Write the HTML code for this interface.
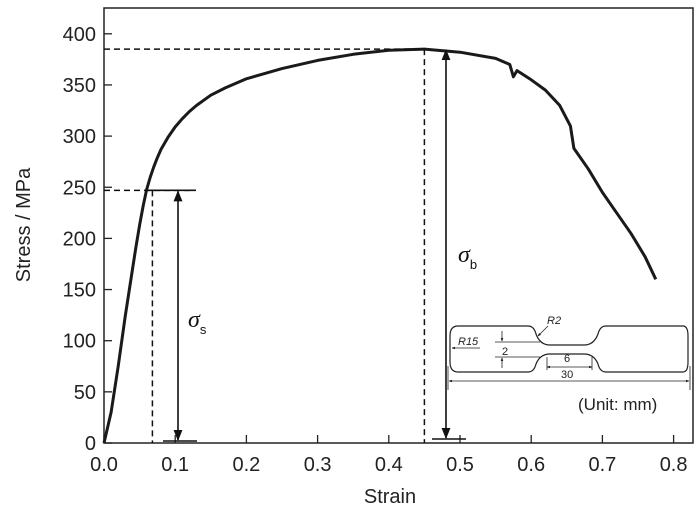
<!DOCTYPE html>
<html><head><meta charset="utf-8"><style>
body{margin:0;background:#fff}
svg{display:block;font-family:"Liberation Sans",Arial,sans-serif}
</style></head><body>
<svg id="c" width="700" height="523" viewBox="0 0 700 523">
<defs>
<marker id="ah" viewBox="0 0 10 10" refX="9" refY="5" markerWidth="7" markerHeight="9" orient="auto-start-reverse"><path d="M0,1 L10,5 L0,9 z" fill="#111"/></marker>
<marker id="sh" viewBox="0 0 10 10" refX="9" refY="5" markerWidth="4" markerHeight="4" orient="auto-start-reverse"><path d="M0,1 L10,5 L0,9 z" fill="#111"/></marker>
</defs>
<g id="axes"></g>
<path id="curve" fill="none" stroke="#1a1a1a" stroke-width="3" stroke-linejoin="round"/>
<g id="ann"></g>
<g id="inset" stroke="#222" fill="none" stroke-width="1.2">
<path d="M458,326 H528 Q534,326 536,334 Q540,345 550,345 H584 Q594,345 598,334 Q600,326 606,326 H683 Q688,326 688,336 V362 Q688,372 683,372 H606 Q600,372 598,364 Q594,354 584,354 H550 Q540,354 536,364 Q534,372 528,372 H458 Q450,372 450,362 V336 Q450,326 458,326 Z"/>
<line x1="448" y1="366" x2="448" y2="390" stroke-width="0.8"/>
<line x1="690" y1="366" x2="690" y2="390" stroke-width="0.8"/>
<line x1="449" y1="381" x2="689" y2="381" stroke-width="0.8" marker-start="url(#sh)" marker-end="url(#sh)"/>
<line x1="495" y1="342" x2="540" y2="342" stroke-width="0.8"/>
<line x1="495" y1="357" x2="540" y2="357" stroke-width="0.8"/>
<line x1="502" y1="331" x2="502" y2="341" stroke-width="0.8" marker-end="url(#sh)"/>
<line x1="502" y1="368" x2="502" y2="358" stroke-width="0.8" marker-end="url(#sh)"/>
<line x1="547" y1="357" x2="547" y2="370" stroke-width="0.8"/>
<line x1="592" y1="357" x2="592" y2="370" stroke-width="0.8"/>
<line x1="547" y1="367" x2="592" y2="367" stroke-width="0.8" marker-start="url(#sh)" marker-end="url(#sh)"/>
<line x1="480" y1="348" x2="452" y2="348" stroke-width="0.8" marker-end="url(#sh)"/>
<line x1="548" y1="326" x2="538" y2="336" stroke-width="0.8" marker-end="url(#sh)"/>
<g stroke="none" fill="#222" font-size="11">
<text x="458" y="345" font-style="italic">R15</text>
<text x="547" y="324" font-style="italic">R2</text>
<text x="502" y="355">2</text>
<text x="564" y="362">6</text>
<text x="561" y="378">30</text>
</g>
<text x="578" y="410" stroke="none" fill="#222" font-size="17">(Unit: mm)</text>
</g>
</svg>
<script>
const strain=[0,0.01,0.02,0.03,0.04,0.045,0.05,0.055,0.06,0.065,0.07,0.075,0.08,0.09,0.1,0.11,0.12,0.13,0.15,0.17,0.2,0.22,0.25,0.3,0.35,0.4,0.45,0.5,0.55,0.57,0.575,0.58,0.6,0.62,0.64,0.655,0.66,0.68,0.7,0.72,0.74,0.76,0.775];
const stress=[0,30,75,125,170,192,213,232,248,260,270,279,287,299,309,317,324,330,340,347,356,360,366,374,380,384,385,382,376,370,358,364,355,345,330,310,288,268,245,225,205,182,160];
const xTicks=[0,0.1,0.2,0.3,0.4,0.5,0.6,0.7,0.8];
const yTicks=[0,50,100,150,200,250,300,350,400];
const yieldStress=247, yieldStrain=0.068, ultStress=385, ultStrain=0.45;
const X=v=>104+v*712, Y=v=>443-v*1.023;
const NS='http://www.w3.org/2000/svg';
function mk(p,t,a){const e=document.createElementNS(NS,t);for(const k in a)e.setAttribute(k,a[k]);p.appendChild(e);return e;}
const ax=document.getElementById('axes');
const fr=mk(ax,'rect',{x:104,y:8,width:589,height:435,fill:'none',stroke:'#222','stroke-width':1.5});


xTicks.forEach(t=>{
 const l=mk(ax,'line',{x1:X(t),x2:X(t),y1:443,y2:435,stroke:'#222','stroke-width':1.3});
 
 
 const tx=mk(ax,'text',{x:X(t),y:471,'text-anchor':'middle','font-size':20,fill:'#222'});
 tx.textContent=t.toFixed(1);
 
 
});
yTicks.forEach(t=>{
 const l=mk(ax,'line',{x1:104,x2:112,y1:Y(t),y2:Y(t),stroke:'#222','stroke-width':1.3});
 
 
 const tx=mk(ax,'text',{x:96,y:Y(t)+7,'text-anchor':'end','font-size':20,fill:'#222'});
 tx.textContent=t;
 
 
});
const xt=mk(ax,'text',{x:390,y:503,'text-anchor':'middle','font-size':20,fill:'#222'});
xt.textContent='Strain';


const yt=mk(ax,'text',{x:30,y:225,'text-anchor':'middle','font-size':20,fill:'#222',transform:'rotate(-90 30 225)'});
yt.textContent='Stress / MPa';


document.getElementById('curve').setAttribute('d',strain.map((s,i)=>(i?'L':'M')+X(s).toFixed(1)+','+Y(stress[i]).toFixed(1)).join(' '));
const an=document.getElementById('ann');
const D={stroke:'#111','stroke-width':1.5,'stroke-dasharray':'6,4',fill:'none'};
let e;
e=mk(an,'line',Object.assign({x1:104,x2:X(ultStrain),y1:Y(ultStress),y2:Y(ultStress)},D));
e=mk(an,'line',Object.assign({x1:X(ultStrain),x2:X(ultStrain),y1:Y(ultStress),y2:443},D));
e=mk(an,'line',Object.assign({x1:104,x2:X(yieldStrain)+40,y1:Y(yieldStress),y2:Y(yieldStress)},D));
e=mk(an,'line',Object.assign({x1:X(yieldStrain),x2:X(yieldStrain),y1:Y(yieldStress),y2:443},D));
const S={stroke:'#111','stroke-width':1.6};
e=mk(an,'line',Object.assign({x1:X(yieldStrain)-5,x2:196,y1:Y(yieldStress),y2:Y(yieldStress)},S));
e=mk(an,'line',Object.assign({x1:163,x2:197,y1:441,y2:441},S));
e=mk(an,'line',Object.assign({x1:178,x2:178,y1:Y(yieldStress)+1,y2:440,'marker-start':'url(#ah)','marker-end':'url(#ah)'},S));
e=mk(an,'line',Object.assign({x1:432,x2:466,y1:439,y2:439},S));
e=mk(an,'line',Object.assign({x1:446,x2:446,y1:Y(ultStress)+1,y2:438,'marker-start':'url(#ah)','marker-end':'url(#ah)'},S));
e=mk(an,'text',{x:188,y:327,'font-size':24,'font-family':'Liberation Serif,serif','font-style':'italic',fill:'#111'});
e.innerHTML='σ<tspan font-size="13" font-style="normal" font-family="Liberation Sans" dy="7">s</tspan>';

e=mk(an,'text',{x:458,y:262,'font-size':24,'font-family':'Liberation Serif,serif','font-style':'italic',fill:'#111'});
e.innerHTML='σ<tspan font-size="13" font-style="normal" font-family="Liberation Sans" dy="7">b</tspan>';

</script>
</body></html>
